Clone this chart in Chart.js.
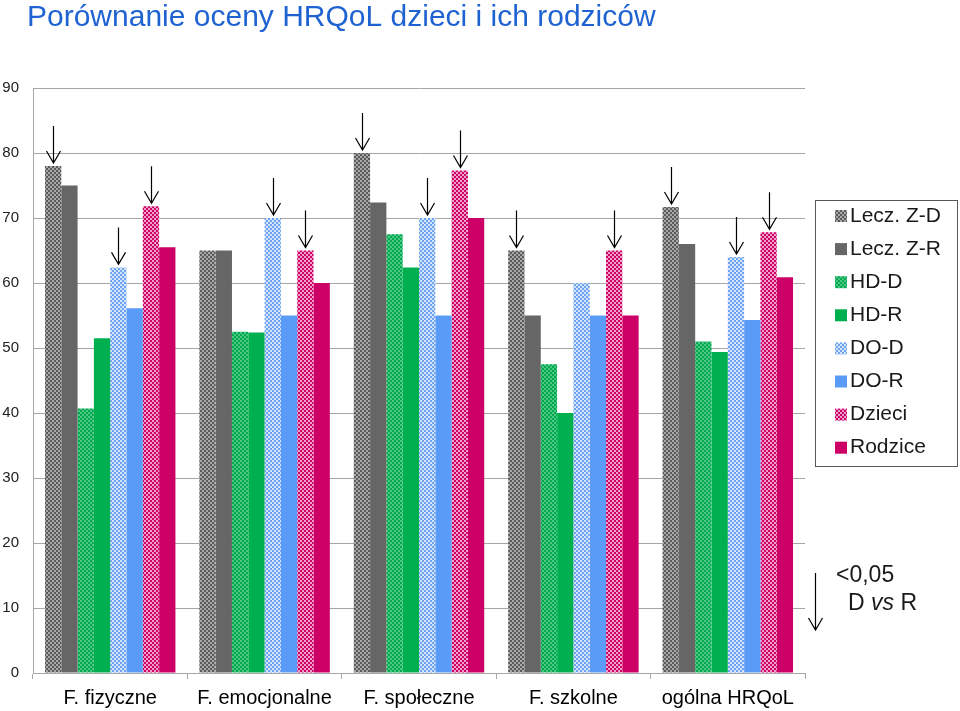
<!DOCTYPE html>
<html>
<head>
<meta charset="utf-8">
<script src="https://cdn.jsdelivr.net/npm/chart.js@4.4.1/dist/chart.umd.min.js"></script>
<style>
  body { margin: 0; background: #fff; }
  canvas { display: block; }
</style>
</head>
<body>
<canvas id="chart" width="960" height="711"></canvas>
<script>
const categories = ['F. fizyczne', 'F. emocjonalne', 'F. społeczne', 'F. szkolne', 'ogólna HRQoL'];
const seriesNames = ['Lecz. Z-D', 'Lecz. Z-R', 'HD-D', 'HD-R', 'DO-D', 'DO-R', 'Dzieci', 'Rodzice'];

const leczZD = [78, 65, 80, 65, 71.7];
const leczZR = [75, 65, 72.4, 55, 66];
const hdD = [40.7, 52.5, 67.5, 47.5, 51];
const hdR = [51.5, 52.4, 62.4, 40, 49.4];
const doD = [62.4, 70, 70, 60, 64];
const doR = [56.1, 55, 55, 55, 54.3];
const dzieci = [71.8, 65, 77.3, 65, 67.8];
const rodzice = [65.5, 60, 70, 55, 60.9];

const yTicks = [0, 10, 20, 30, 40, 50, 60, 70, 80, 90];

// significant differences (category index, series index) marked with an arrow
const significant = [
  [0, 0], [0, 4], [0, 6],
  [1, 4], [1, 6],
  [2, 0], [2, 4], [2, 6],
  [3, 0], [3, 6],
  [4, 0], [4, 4], [4, 6]
];

const FONT = '"Liberation Sans", Arial, sans-serif';

function checker(base, light) {
  const c = document.createElement('canvas');
  c.width = 4; c.height = 4;
  const g = c.getContext('2d');
  g.fillStyle = base;
  g.fillRect(0, 0, 4, 4);
  g.fillStyle = light;
  g.fillRect(0, 0, 2, 2);
  g.fillRect(2, 2, 2, 2);
  return g.createPattern(c, 'repeat');
}

const ctx = document.getElementById('chart').getContext('2d');

const fills = [
  checker('#5a5a5a', '#a8a8a8'),
  '#666666',
  checker('#00a850', '#4cc884'),
  '#00b050',
  checker('#6fa3f0', '#d2e4fb'),
  '#5b9bf8',
  checker('#cc0066', '#f0a0c8'),
  '#cc0066'
];

const values = [leczZD, leczZR, hdD, hdR, doD, doR, dzieci, rodzice];

function arrow(c, x, y0, y1) {
  c.beginPath();
  c.moveTo(x, y0);
  c.lineTo(x, y1);
  c.moveTo(x - 7, y1 - 12);
  c.lineTo(x, y1);
  c.lineTo(x + 7, y1 - 12);
  c.stroke();
}

const arrowsPlugin = {
  id: 'arrows',
  afterDatasetsDraw(chart) {
    const c = chart.ctx;
    c.save();
    c.strokeStyle = '#000';
    c.lineWidth = 1.2;
    significant.forEach(([cat, s]) => {
      const bar = chart.getDatasetMeta(s).data[cat];
      const x = Math.round(bar.x) + 0.5;
      const tip = bar.y - 3;
      arrow(c, x, tip - 37, tip);
    });
    c.restore();
  }
};

const titleShift = {
  id: 'titleShift',
  afterLayout(chart) {
    chart.titleBlock.left = 27;
  }
};

const legendPlugin = {
  id: 'boxLegend',
  afterDraw(chart) {
    const c = chart.ctx;
    const left = chart.chartArea.right + 10;
    const top = 200;
    c.save();
    c.strokeStyle = '#595959';
    c.lineWidth = 1;
    c.strokeRect(left + 0.5, top + 0.5, 142, 266);
    c.font = '21px ' + FONT;
    c.textBaseline = 'middle';
    seriesNames.forEach((name, i) => {
      const cy = top + 16 + i * 33.1;
      c.fillStyle = fills[i];
      c.fillRect(left + 20, cy - 6, 12, 12);
      c.fillStyle = '#1a1a1a';
      c.fillText(name, left + 35, cy);
    });
    // p-value note
    c.font = '23px ' + FONT;
    c.fillText('<0,05', left + 21, 576);
    c.fillText('D ', left + 33, 604);
    let w = c.measureText('D ').width;
    c.font = 'italic 23px ' + FONT;
    c.fillText('vs', left + 33 + w, 604);
    w += c.measureText('vs').width;
    c.font = '23px ' + FONT;
    c.fillText(' R', left + 33 + w, 604);
    c.strokeStyle = '#000';
    c.lineWidth = 1.2;
    arrow(c, left + 0.5, 573, 630);
    c.restore();
  }
};

new Chart(ctx, {
  type: 'bar',
  data: {
    labels: categories,
    datasets: seriesNames.map((name, i) => ({
      label: name,
      data: values[i],
      backgroundColor: fills[i],
      borderWidth: 0
    }))
  },
  options: {
    responsive: false,
    animation: false,
    categoryPercentage: 0.845,
    barPercentage: 1.0,
    layout: { padding: { left: 0, right: 155, top: 0, bottom: -6 } },
    scales: {
      y: {
        min: 0,
        max: 90,
        afterBuildTicks(axis) { axis.ticks = yTicks.map(v => ({ value: v })); },
        afterFit(axis) { axis.width = 33; },
        ticks: { font: { family: FONT, size: 15 }, color: '#222', padding: 14 },
        grid: { color: '#a6a6a6', drawTicks: false },
        border: { color: '#a6a6a6' }
      },
      x: {
        ticks: { font: { family: FONT, size: 20 }, color: '#000', padding: 7 },
        grid: { drawOnChartArea: false, drawTicks: true, tickLength: 6, offset: true, color: '#a6a6a6' },
        border: { color: '#a6a6a6' }
      }
    },
    plugins: {
      legend: { display: false },
      tooltip: { enabled: false },
      title: {
        display: true,
        text: 'Porównanie oceny HRQoL dzieci i ich rodziców',
        align: 'start',
        color: '#1f63d2',
        font: { family: FONT, size: 30, weight: 'normal' },
        padding: { top: 0, bottom: 52 }
      }
    }
  },
  plugins: [titleShift, arrowsPlugin, legendPlugin]
});
</script>
</body>
</html>
